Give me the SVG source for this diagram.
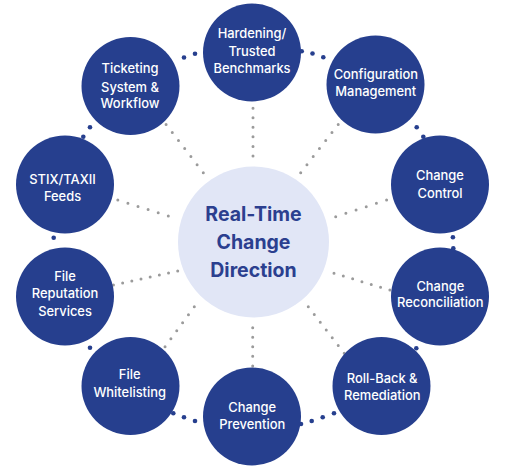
<svg xmlns="http://www.w3.org/2000/svg" width="519" height="476" viewBox="0 0 519 476">
<style>
.bg{fill:#ffffff}
.gray{stroke:#9b9b9b;stroke-width:3;stroke-linecap:round;fill:none}
.bdot{fill:#263f8e}
.node{fill:#263f8e}
.hub{fill:#e1e6f6}
.lbl{font-family:Inter,"DejaVu Sans",sans-serif;font-size:12.9px;font-weight:500;fill:#ffffff;text-anchor:middle}
.hubt{font-family:Inter,"DejaVu Sans",sans-serif;font-size:19.5px;font-weight:700;fill:#2b3f8f;text-anchor:middle}
</style>
<rect class="bg" x="0" y="0" width="519" height="476"/>
<g id="connectors">
  <line class="gray" x1="253" y1="108.3" x2="253" y2="156" stroke-dasharray="0 9.52"/>
  <line class="gray" x1="300.7" y1="172.7" x2="338.3" y2="124.3" stroke-dasharray="0 10.19"/>
  <line class="gray" x1="335.7" y1="216.7" x2="386.7" y2="200" stroke-dasharray="0 10.71"/>
  <line class="gray" x1="334" y1="273.3" x2="390" y2="290" stroke-dasharray="0 9.72"/>
  <line class="gray" x1="308.3" y1="306.7" x2="344.3" y2="353.3" stroke-dasharray="0 9.79"/>
  <line class="gray" x1="252.7" y1="327.7" x2="252.7" y2="366" stroke-dasharray="0 9.55"/>
  <line class="gray" x1="194.3" y1="306.7" x2="165" y2="346.7" stroke-dasharray="0 9.9"/>
  <line class="gray" x1="177.7" y1="271" x2="113.3" y2="285" stroke-dasharray="0 9.39"/>
  <line class="gray" x1="168.3" y1="216" x2="117.7" y2="200" stroke-dasharray="0 10.59"/>
  <line class="gray" x1="203.3" y1="172.7" x2="166" y2="124.3" stroke-dasharray="0 10.16"/>
  <g id="ring">
    <circle class="bdot" cx="184" cy="57.5" r="2.3"/>
    <circle class="bdot" cx="195" cy="53.8" r="2.3"/>
    <circle class="bdot" cx="301.7" cy="51.2" r="2.3"/>
    <circle class="bdot" cx="312.5" cy="53.5" r="2.3"/>
    <circle class="bdot" cx="323.3" cy="57.3" r="2.3"/>
    <circle class="bdot" cx="416.7" cy="127.3" r="2.3"/>
    <circle class="bdot" cx="423.3" cy="136.7" r="2.3"/>
    <circle class="bdot" cx="452.9" cy="237.3" r="2.3"/>
    <circle class="bdot" cx="453.3" cy="248.3" r="2.3"/>
    <circle class="bdot" cx="416.3" cy="348.2" r="2.3"/>
    <circle class="bdot" cx="334" cy="413.3" r="2.3"/>
    <circle class="bdot" cx="322.7" cy="417.3" r="2.3"/>
    <circle class="bdot" cx="311.7" cy="421" r="2.3"/>
    <circle class="bdot" cx="301" cy="424" r="2.3"/>
    <circle class="bdot" cx="195" cy="421" r="2.3"/>
    <circle class="bdot" cx="184" cy="417.3" r="2.3"/>
    <circle class="bdot" cx="173.3" cy="413.3" r="2.3"/>
    <circle class="bdot" cx="90" cy="347.7" r="2.3"/>
    <circle class="bdot" cx="53.7" cy="237.8" r="2.3"/>
    <circle class="bdot" cx="83.3" cy="136.7" r="2.3"/>
    <circle class="bdot" cx="90" cy="127.3" r="2.3"/>
  </g>
</g>
<g id="hub">
  <circle class="hub" cx="253.5" cy="242" r="75.5"/>
  <text class="hubt" x="253.5" y="221">Real-Time</text>
  <text class="hubt" x="253.5" y="248.5">Change</text>
  <text class="hubt" x="253.5" y="276.5">Direction</text>
</g>
<g id="hardening">
  <circle class="node" cx="252" cy="52.5" r="49"/>
  <text class="lbl" x="252" y="38.3">Hardening/</text>
  <text class="lbl" x="252" y="56">Trusted</text>
  <text class="lbl" x="252" y="72.7">Benchmarks</text>
</g>
<g id="configuration">
  <circle class="node" cx="375.5" cy="84.5" r="49"/>
  <text class="lbl" x="375.8" y="79.3">Configuration</text>
  <text class="lbl" x="375.8" y="96">Management</text>
</g>
<g id="change-control">
  <circle class="node" cx="440" cy="184.5" r="49"/>
  <text class="lbl" x="440" y="180">Change</text>
  <text class="lbl" x="440" y="197.7">Control</text>
</g>
<g id="reconciliation">
  <circle class="node" cx="440" cy="296.5" r="49"/>
  <text class="lbl" x="440.3" y="290.7">Change</text>
  <text class="lbl" x="440.3" y="307.3">Reconciliation</text>
</g>
<g id="rollback">
  <circle class="node" cx="381.5" cy="386" r="49"/>
  <text class="lbl" x="382.2" y="383.3">Roll-Back &amp;</text>
  <text class="lbl" x="382.2" y="400">Remediation</text>
</g>
<g id="prevention">
  <circle class="node" cx="252" cy="416.5" r="49"/>
  <text class="lbl" x="252.2" y="411.7">Change</text>
  <text class="lbl" x="252.2" y="429">Prevention</text>
</g>
<g id="whitelisting">
  <circle class="node" cx="130.5" cy="386" r="49"/>
  <text class="lbl" x="129.7" y="379">File</text>
  <text class="lbl" x="129.7" y="396.7">Whitelisting</text>
</g>
<g id="reputation">
  <circle class="node" cx="65" cy="296.5" r="49"/>
  <text class="lbl" x="65" y="281">File</text>
  <text class="lbl" x="65" y="298.3">Reputation</text>
  <text class="lbl" x="65" y="315.7">Services</text>
</g>
<g id="stix">
  <circle class="node" cx="65" cy="184.5" r="49"/>
  <text class="lbl" x="62.5" y="184.3">STIX/TAXII</text>
  <text class="lbl" x="62.5" y="201">Feeds</text>
</g>
<g id="ticketing">
  <circle class="node" cx="130.5" cy="86" r="49"/>
  <text class="lbl" x="130" y="73">Ticketing</text>
  <text class="lbl" x="130" y="91.7">System &amp;</text>
  <text class="lbl" x="130" y="108.3">Workflow</text>
</g>
</svg>
